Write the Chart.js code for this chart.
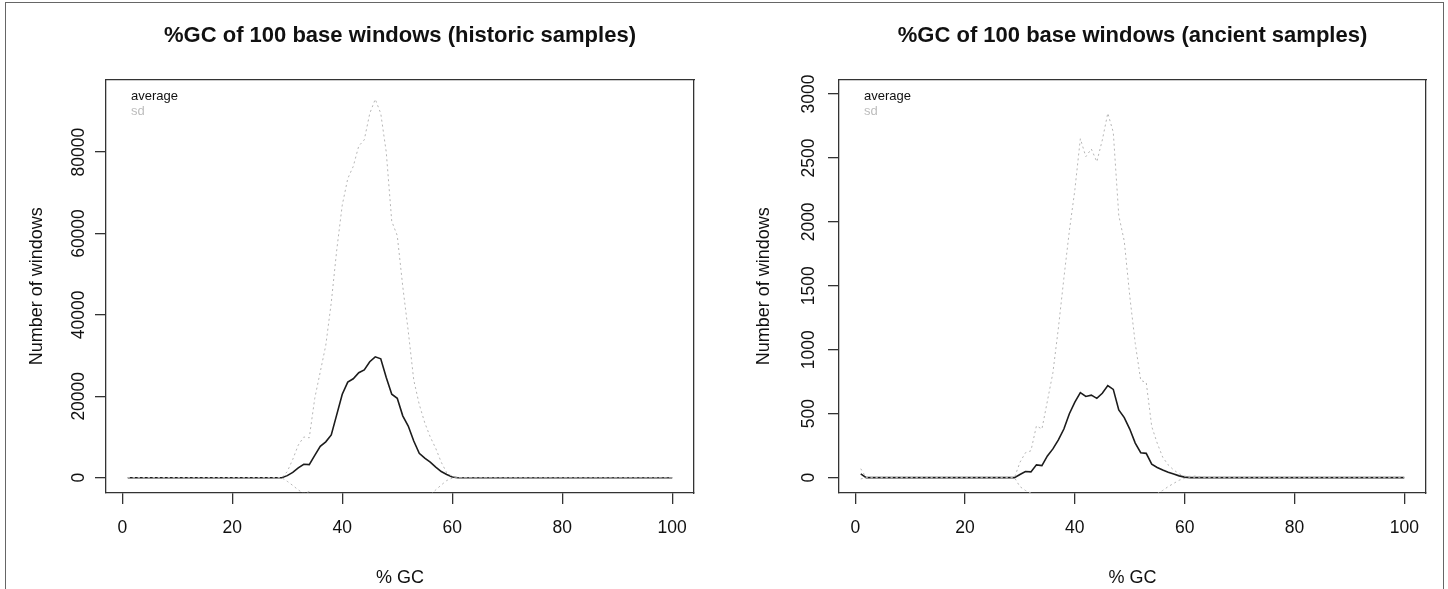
<!DOCTYPE html>
<html>
<head>
<meta charset="utf-8">
<script src="https://cdn.jsdelivr.net/npm/chart.js@4.4.0/dist/chart.umd.min.js"></script>
<style>
  html, body { margin: 0; padding: 0; background: #fff; overflow: hidden; }
  #frame { position: absolute; left: 5px; top: 2px; width: 1437px; height: 640px; border: 1px solid #666; }
  .panel { position: absolute; top: 0; width: 724px; height: 589px; }
  #left { left: 0; }
  #right { left: 724px; }
</style>
</head>
<body>
<div id="frame"></div>
<div class="panel" id="left"><canvas id="histChart" width="724" height="589"></canvas></div>
<div class="panel" id="right"><canvas id="ancChart" width="724" height="589"></canvas></div>
<script>
// % GC of the window, 1..100
const gcPercent = Array.from({ length: 100 }, (_, i) => i + 1);
const xTicks = [0, 20, 40, 60, 80, 100];

// legend entries (text only, as in the R plot)
const legendLabels = ['average', 'sd'];
const legendColors = ['#111', '#bdbdbd'];

// historic samples
const histMean = [
  0, 0, 0, 0, 0, 0, 0, 0, 0, 0,
  0, 0, 0, 0, 0, 0, 0, 0, 0, 0,
  0, 0, 0, 0, 0, 0, 0, 0, 0, 500,
  1300, 2400, 3300, 3200, 5500, 7700, 8800, 10500, 15500, 20500,
  23500, 24300, 25800, 26500, 28500, 29700, 29200, 24600, 20500, 19500,
  15200, 12700, 9000, 6000, 4800, 3800, 2600, 1500, 800, 150,
  0, 0, 0, 0, 0, 0, 0, 0, 0, 0,
  0, 0, 0, 0, 0, 0, 0, 0, 0, 0,
  0, 0, 0, 0, 0, 0, 0, 0, 0, 0,
  0, 0, 0, 0, 0, 0, 0, 0, 0, 0
];
const histUpper = [
  0, 0, 0, 0, 0, 0, 0, 0, 0, 0,
  0, 0, 0, 0, 0, 0, 0, 0, 0, 0,
  0, 0, 0, 0, 0, 0, 0, 0, 0, 1500,
  4500, 8000, 10000, 9800, 19500, 26000, 32500, 43000, 56000, 67000,
  73500, 76500, 81500, 83000, 89500, 93000, 89500, 80000, 63000, 59500,
  47000, 36000, 24000, 18000, 13500, 10000, 7200, 3800, 1200, 300,
  0, 0, 0, 0, 0, 0, 0, 0, 0, 0,
  0, 0, 0, 0, 0, 0, 0, 0, 0, 0,
  0, 0, 0, 0, 0, 0, 0, 0, 0, 0,
  0, 0, 0, 0, 0, 0, 0, 0, 0, 0
];
const histLower = [
  0, 0, 0, 0, 0, 0, 0, 0, 0, 0,
  0, 0, 0, 0, 0, 0, 0, 0, 0, 0,
  0, 0, 0, 0, 0, 0, 0, 0, 0, -900,
  -1900, -3000, -3900, -3400, -8500, -10600, -14900, -22000, -25000, -26000,
  -26500, -27900, -29900, -30000, -32500, -33600, -31100, -29000, -22000, -20500,
  -16600, -10600, -6000, -6000, -4500, -4200, -3000, -1800, -700, -100,
  0, 0, 0, 0, 0, 0, 0, 0, 0, 0,
  0, 0, 0, 0, 0, 0, 0, 0, 0, 0,
  0, 0, 0, 0, 0, 0, 0, 0, 0, 0,
  0, 0, 0, 0, 0, 0, 0, 0, 0, 0
];
const histYTicks = [0, 20000, 40000, 60000, 80000];

// ancient samples
const ancMean = [
  30, 0, 0, 0, 0, 0, 0, 0, 0, 0,
  0, 0, 0, 0, 0, 0, 0, 0, 0, 0,
  0, 0, 0, 0, 0, 0, 0, 0, 0, 25,
  48, 45, 100, 94, 170, 225, 295, 380, 500, 590,
  665, 635, 645, 620, 660, 720, 690, 530, 470, 380,
  270, 195, 190, 105, 80, 60, 42, 28, 14, 4,
  0, 0, 0, 0, 0, 0, 0, 0, 0, 0,
  0, 0, 0, 0, 0, 0, 0, 0, 0, 0,
  0, 0, 0, 0, 0, 0, 0, 0, 0, 0,
  0, 0, 0, 0, 0, 0, 0, 0, 0, 0
];
const ancUpper = [
  70, 0, 0, 0, 0, 0, 0, 0, 0, 0,
  0, 0, 0, 0, 0, 0, 0, 0, 0, 0,
  0, 0, 0, 0, 0, 0, 0, 0, 0, 120,
  195, 210, 405, 380, 600, 820, 1170, 1560, 1930, 2250,
  2650, 2510, 2570, 2470, 2640, 2850, 2700, 2050, 1850, 1420,
  1050, 760, 745, 400, 270, 160, 100, 60, 30, 12,
  10, 12, 8, 0, 0, 0, 0, 0, 0, 0,
  0, 0, 0, 0, 0, 0, 0, 0, 0, 0,
  0, 0, 0, 0, 0, 0, 0, 0, 0, 0,
  0, 0, 0, 0, 0, 0, 0, 0, 0, 0
];
const ancLower = [
  -10, 0, 0, 0, 0, 0, 0, 0, 0, 0,
  0, 0, 0, 0, 0, 0, 0, 0, 0, 0,
  0, 0, 0, 0, 0, 0, 0, 0, 0, -70,
  -100, -120, -205, -192, -260, -370, -580, -800, -930, -1070,
  -1320, -1240, -1280, -1230, -1320, -1410, -1320, -990, -910, -660,
  -510, -370, -365, -190, -125, -100, -70, -45, -20, -5,
  0, 0, 0, 0, 0, 0, 0, 0, 0, 0,
  0, 0, 0, 0, 0, 0, 0, 0, 0, 0,
  0, 0, 0, 0, 0, 0, 0, 0, 0, 0,
  0, 0, 0, 0, 0, 0, 0, 0, 0, 0
];
const ancYTicks = [0, 500, 1000, 1500, 2000, 2500, 3000];

const FONT = '"Liberation Sans", Arial, sans-serif';
const axisColor = '#333';
const textColor = '#111';
const sdColor = '#b5b5b5';

// R-style legend: plain text in the top-left corner of the plot box
const cornerLegend = {
  id: 'cornerLegend',
  afterDraw(chart) {
    const { ctx, chartArea } = chart;
    ctx.save();
    ctx.font = '13px ' + FONT;
    ctx.textBaseline = 'middle';
    legendLabels.forEach((txt, i) => {
      ctx.fillStyle = legendColors[i];
      ctx.fillText(txt, chartArea.left + 25, chartArea.top + 17 + i * 15.5);
    });
    ctx.restore();
  }
};

function toPoints(values) {
  return gcPercent.map((x, i) => ({ x: x, y: values[i] }));
}

function buildChart(canvasId, cfg) {
  const ctx = document.getElementById(canvasId).getContext('2d');
  const tickGrid = { display: true, drawOnChartArea: false, drawTicks: true, tickLength: 11, color: axisColor, lineWidth: 1.3 };
  const border = { display: true, color: axisColor, width: 1.3 };
  const hidden = { display: false, drawTicks: false };

  return new Chart(ctx, {
    type: 'line',
    data: {
      datasets: [
        { label: 'sd', data: toPoints(cfg.upper), borderColor: sdColor, borderWidth: 1, borderDash: [2, 3], pointRadius: 0 },
        { label: 'sd', data: toPoints(cfg.lower), borderColor: sdColor, borderWidth: 1, borderDash: [2, 3], pointRadius: 0 },
        { label: 'average', data: toPoints(cfg.mean), borderColor: '#1c1c1c', borderWidth: 1.6, pointRadius: 0 }
      ]
    },
    options: {
      responsive: false,
      animation: false,
      layout: { padding: { left: 0, right: cfg.padRight, top: 0, bottom: 0 } },
      scales: {
        x: {
          type: 'linear', position: 'bottom', min: -2.96, max: 103.96,
          afterBuildTicks: s => { s.ticks = xTicks.map(v => ({ value: v })); },
          afterFit: s => { s.height = 96; },
          grid: tickGrid, border: border,
          ticks: { color: textColor, font: { family: FONT, size: 17.5 }, padding: 14, maxRotation: 0, autoSkip: false, callback: v => String(v) },
          title: { display: true, text: '% GC', color: textColor, font: { family: FONT, size: 18 }, padding: { top: 0, bottom: 0 } }
        },
        y: {
          type: 'linear', position: 'left', min: cfg.yMin, max: cfg.yMax,
          afterBuildTicks: s => { s.ticks = cfg.yTicks.map(v => ({ value: v })); },
          afterFit: s => { s.width = cfg.axisLeft; },
          grid: tickGrid, border: border,
          ticks: { color: textColor, font: { family: FONT, size: 17.5 }, padding: cfg.tickPad, minRotation: 90, maxRotation: 90, crossAlign: 'center', autoSkip: false, callback: v => String(v) },
          title: { display: true, text: 'Number of windows', color: textColor, font: { family: FONT, size: 18 }, padding: { top: cfg.yTitlePad, bottom: 0 } }
        },
        // top and right edges of the plot box
        xTop: { type: 'linear', position: 'top', grid: hidden, ticks: { display: false }, border: border },
        yRight: { type: 'linear', position: 'right', grid: hidden, ticks: { display: false }, border: border }
      },
      plugins: {
        title: {
          display: true, text: cfg.title, fullSize: false, color: textColor,
          font: { family: FONT, size: 22, weight: 'bold' }, padding: { top: 23, bottom: 30 }
        },
        legend: { display: false },
        tooltip: { enabled: false }
      }
    },
    plugins: [cornerLegend]
  });
}

buildChart('histChart', {
  title: '%GC of 100 base windows (historic samples)',
  mean: histMean, upper: histUpper, lower: histLower,
  yMin: -3764, yMax: 97870, yTicks: histYTicks,
  axisLeft: 106, padRight: 30, tickPad: -9, yTitlePad: 26
});

buildChart('ancChart', {
  title: '%GC of 100 base windows (ancient samples)',
  mean: ancMean, upper: ancUpper, lower: ancLower,
  yMin: -120, yMax: 3114, yTicks: ancYTicks,
  axisLeft: 115, padRight: 22, tickPad: -1, yTitlePad: 29
});
</script>
</body>
</html>
